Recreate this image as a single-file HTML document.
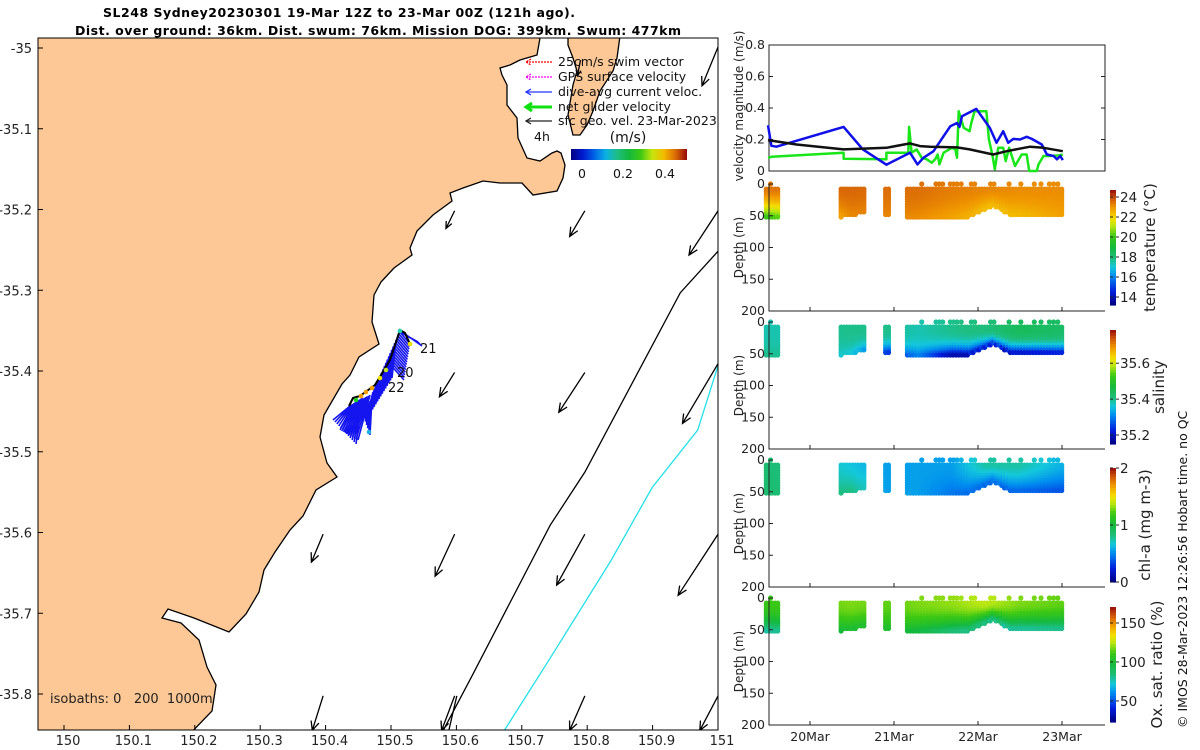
<!DOCTYPE html>
<html><head><meta charset="utf-8"><style>
body{margin:0;background:#fff;}
svg{display:block;font-family:"DejaVu Sans","Liberation Sans",sans-serif;}
</style></head><body>
<svg id="fig" width="1200" height="750" viewBox="0 0 1200 750" xmlns="http://www.w3.org/2000/svg">
<rect width="1200" height="750" fill="#fff"/>
<g font-weight="bold" font-size="12.5" fill="#000" text-anchor="middle">
<text x="339" y="17" textLength="472">SL248 Sydney20230301 19-Mar 12Z to 23-Mar 00Z (121h ago).</text>
<text x="378" y="35" textLength="606">Dist. over ground: 36km. Dist. swum: 76km. Mission DOG: 399km. Swum: 477km</text>
</g>
<!-- MAP -->
<g id="map">
<clipPath id="mapclip"><rect x="38" y="38" width="680" height="692"/></clipPath>
<g clip-path="url(#mapclip)">
<path fill="#fdc896" stroke="#000" stroke-width="1.3" d="M30,30 L540,30 L540,38 L537,55 L520,60 L510,65 L500,68 L502,75 L507,85 L507,105 L517,118 L518,138 L527,158 L540,161 L552,153 L557,151 L561,153 L565,165 L563,178 L557,191 L533,195 L522,183 L500,183 L483,181 L463,188 L450,193 L452,201 L433,215 L417,231 L410,248 L412,255 L394,268 L381,282 L374,295 L372,322 L379,344 L359,357 L350,375 L342,384 L324,415 L320,437 L327,463 L337,477 L316,490 L303,516 L290,530 L275,552 L264,570 L259,592 L246,614 L229,632 L194,618 L168,609 L162,618 L181,623 L199,640 L207,667 L216,685 L212,711 L186,738 L30,738 Z"/>
<g transform="translate(38,38) scale(0.434,0.443)">
<path fill="none" stroke="#000" stroke-width="1.3" vector-effect="non-scaling-stroke" d="M930,1570 L1000,1440 L1180,1100 L1260,980 L1480,575 L1570,478"/>
<path fill="none" stroke="#000" stroke-width="1.3" vector-effect="non-scaling-stroke" d="M945,1570 L965,1485"/>
<path fill="none" stroke="#22e0e8" stroke-width="1.3" vector-effect="non-scaling-stroke" d="M1070,1570 L1180,1400 L1320,1180 L1415,1015 L1520,885 L1570,730"/>
</g>
<polygon fill="#fdc896" stroke="#000" stroke-width="1.3" points="568,36 620,36 617,58 613,71 600,91 593,111 587,125 580,135 573,135 568,115 573,85 577,71 573,58 568,45"/>
<g id="arrows" stroke="#000" stroke-width="1.3" fill="none"></g>
<g id="track"></g>
</g>
<rect x="38" y="38" width="680" height="692" fill="none" stroke="#000" stroke-width="1"/>
<g id="mapticks" font-size="13" fill="#222"></g>
<text x="50" y="703" font-size="13" fill="#222">isobaths: 0&#160;&#160;&#160;200&#160;&#160;1000m</text>
<!-- legend -->
<g font-size="12.5" fill="#111">
<g stroke-width="1.3" fill="none">
<path d="M552,62 L526,62 M531,59 L526,62 L531,65" stroke="#f00" stroke-dasharray="2,1"/>
<path d="M552,77 L526,77 M531,74 L526,77 L531,80" stroke="#f0f" stroke-dasharray="2,1"/>
<path d="M552,92 L526,92 M531,89 L526,92 L531,95" stroke="#2030ff"/>
<path d="M552,107 L526,107 M532,103 L526,107 L532,111" stroke="#10e010" stroke-width="3"/>
<path d="M552,121 L526,121 M531,118 L526,121 L531,124" stroke="#222"/>
</g>
<text x="558" y="66">25cm/s swim vector</text>
<text x="558" y="81">GPS surface velocity</text>
<text x="558" y="96">dive-avg current veloc.</text>
<text x="558" y="111">net glider velocity</text>
<text x="558" y="125">sfc geo. vel. 23-Mar-2023</text>
<text x="534" y="141">4h</text>
<text x="628" y="142" font-size="14" text-anchor="middle">(m/s)</text>
<rect id="speedcb" x="571" y="149" width="116" height="11"/>
<text x="582" y="178" text-anchor="middle">0</text>
<text x="623" y="178" text-anchor="middle">0.2</text>
<text x="665" y="178" text-anchor="middle">0.4</text>
</g>
</g>
<!-- RIGHT PANELS -->
<g id="right" font-size="12.5" fill="#222"></g>
<text transform="translate(1187,728) rotate(-90)" font-size="12.5" fill="#111">© IMOS 28-Mar-2023 12:26:56 Hobart time. no QC</text>
</svg>
<script>
const NS="http://www.w3.org/2000/svg";
function mk(tag,attrs,parent){const e=document.createElementNS(NS,tag);for(const k in attrs)e.setAttribute(k,attrs[k]);if(parent)parent.appendChild(e);return e;}

// ===== velocity chart data =====
const blueT=[19.50,19.54,19.60,20.40,20.63,20.91,21.19,21.28,21.35,21.47,21.59,21.67,21.75,21.78,21.81,21.98,22.14,22.22,22.30,22.36,22.42,22.50,22.58,22.64,22.76,22.82,22.90,22.94,22.98,23.01];
const blueV=[0.29,0.16,0.154,0.28,0.137,0.04,0.116,0.042,0.084,0.126,0.221,0.284,0.305,0.28,0.348,0.394,0.274,0.179,0.253,0.179,0.204,0.20,0.217,0.204,0.168,0.105,0.095,0.074,0.095,0.069];
const greenT=[19.50,19.54,20.40,20.40,20.91,20.91,21.17,21.18,21.21,21.27,21.33,21.39,21.45,21.49,21.52,21.54,21.59,21.69,21.73,21.75,21.77,21.83,21.90,21.92,21.96,22.10,22.13,22.17,22.20,22.24,22.30,22.33,22.37,22.41,22.44,22.52,22.58,22.61,22.70,22.72,22.78,22.86,22.96,23.01];
const greenV=[0.084,0.09,0.116,0.078,0.074,0.116,0.116,0.28,0.116,0.137,0.084,0.074,0.053,0.074,0.105,0.042,0.116,0.147,0.137,0.084,0.379,0.274,0.253,0.305,0.379,0.379,0.20,0.105,0.011,0.147,0.147,0.063,0.147,0.084,0.032,0.105,0.105,0.0,0.0,0.042,0.095,0.095,0.099,0.105];
const blackT=[19.50,19.84,20.40,20.91,21.19,21.31,21.43,21.75,21.90,22.18,22.34,22.62,22.78,23.01];
const blackV=[0.196,0.168,0.137,0.147,0.175,0.158,0.154,0.150,0.137,0.105,0.126,0.154,0.147,0.126];
const velTicks=[0,0.2,0.4,0.6,0.8];
const dayTicks=[20,21,22,23];
const dayLabels=["20Mar","21Mar","22Mar","23Mar"];

// ===== section data =====
const segStart=[19.48,20.37,20.90,21.16];
const segEnd=[19.63,20.67,20.96,23.02];
const botT=[19.48,19.63,20.37,20.55,20.67,20.90,20.96,21.16,21.90,22.10,22.18,22.40,23.02];
const botD=[52,52,52,48,45,50,50,53,52,40,35,50,50];
const surfT=[19.53,21.33,21.50,21.54,21.58,21.67,21.71,21.75,21.80,21.92,21.96,22.15,22.19,22.37,22.51,22.67,22.75,22.85,22.90,22.95];
const knotT=[19.5,20.5,20.93,21.3,21.7,22.1,22.5,23.0];
const tempSurf=[23.4,23.6,23.5,23.5,23.3,23.2,23.1,23.1];
const tempBot=[20.0,23.2,23.2,23.1,22.8,22.3,22.4,22.8];
const salSurf=[35.38,35.40,35.40,35.38,35.40,35.41,35.44,35.43];
const salBot=[35.40,35.36,35.22,35.30,35.18,35.20,35.18,35.20];
const chlSurf=[0.85,0.65,0.55,0.55,0.55,0.75,0.75,0.6];
const chlBot=[0.85,0.8,0.55,0.55,0.45,0.4,0.4,0.35];
const oxySurf=[110,118,115,118,120,125,118,115];
const oxyBot=[78,100,100,95,85,78,76,78];
const depthTicks=[0,50,100,150,200];

// ===== colormap =====
const cmapStops=[[0,[0,0,130]],[0.12,[0,30,220]],[0.25,[0,140,240]],[0.33,[20,200,220]],[0.4,[30,190,130]],[0.5,[20,185,60]],[0.6,[60,200,20]],[0.68,[180,230,20]],[0.75,[245,225,0]],[0.85,[240,150,0]],[0.92,[210,90,10]],[1,[150,10,10]]];
function cmap(f){f=Math.max(0,Math.min(1,f));for(let i=1;i<cmapStops.length;i++){if(f<=cmapStops[i][0]){const a=cmapStops[i-1],b=cmapStops[i];const u=(f-a[0])/(b[0]-a[0]);const c=a[1].map((v,j)=>Math.round(v+(b[1][j]-v)*u));return `rgb(${c[0]},${c[1]},${c[2]})`;}}return "rgb(150,10,10)";}
function interp(xs,ys,x){if(x<=xs[0])return ys[0];for(let i=1;i<xs.length;i++){if(x<=xs[i]){const u=(x-xs[i-1])/(xs[i]-xs[i-1]);return ys[i-1]+(ys[i]-ys[i-1])*u;}}return ys[ys.length-1];}

const right=document.getElementById('right');
const X0=810, PXD=84, PL=769, PR=1105;
const xT=t=>X0+(t-20)*PXD;

// --- velocity panel ---
const vTop=45,vBot=171;
const yV=v=>vBot-v/0.8*(vBot-vTop);
const vel=mk('g',{},right);


mk('rect',{x:PL,y:vTop,width:PR-PL,height:vBot-vTop,fill:'none',stroke:'#222','stroke-width':1},vel);
velTicks.forEach(v=>{const y=yV(v);
 mk('line',{x1:PL,x2:PL+4,y1:y,y2:y,stroke:'#222'},vel);mk('line',{x1:PR,x2:PR-4,y1:y,y2:y,stroke:'#222'},vel);
 const t=mk('text',{x:PL-4,y:y+4,'text-anchor':'end'},vel);t.textContent=String(v);
 
 });
const vl=mk('text',{transform:`translate(743,${(vTop+vBot)/2-2}) rotate(-90)`,'text-anchor':'middle','font-size':12},vel);vl.textContent='velocity magnitude (m/s)';


function series(T,V,color,name,w){const d=T.map((t,i)=>(i?'L':'M')+xT(t).toFixed(1)+','+yV(V[i]).toFixed(1)).join(' ');
 const p=mk('path',{d:d,fill:'none',stroke:color,'stroke-width':w,'stroke-linejoin':'round'},vel);
 
 }
series(greenT,greenV,'#19e619','net-glider-speed-line',2.5);
series(blueT,blueV,'#1010e8','dive-avg-current-line',2.5);
series(blackT,blackV,'#111','geo-velocity-line',2.5);

// --- section panels ---
const panels=[
 {name:'temperature',top:184,surf:tempSurf,bot:tempBot,vmin:13.2,vmax:24.7,cbTop:190,cbBot:305,ticks:[14,16,18,20,22,24],title:'temperature (°C)',tx:1155,pw:1.6},
 {name:'salinity',top:322,surf:salSurf,bot:salBot,vmin:35.15,vmax:35.785,cbTop:330,cbBot:444,ticks:[35.2,35.4,35.6],title:'salinity',tx:1164,pw:3},
 {name:'chlorophyll',top:460,surf:chlSurf,bot:chlBot,vmin:0,vmax:2,cbTop:468,cbBot:582,ticks:[0,1,2],title:'chl-a (mg m-3)',tx:1150,pw:1.5},
 {name:'oxygen',top:598,surf:oxySurf,bot:oxyBot,vmin:23,vmax:170.5,cbTop:607,cbBot:722,ticks:[50,100,150],title:'Ox. sat. ratio (%)',tx:1162,pw:2}
];
panels.forEach((P,pi)=>{
 const g=mk('g',{},right);
 
 
 const H=127, yD=d=>P.top+d/200*H, fr=v=>(v-P.vmin)/(P.vmax-P.vmin);
 const dots=mk('g',{},g);
 for(let s=0;s<segStart.length;s++){
  for(let t=segStart[s];t<=segEnd[s]+1e-6;t+=0.034){
   const bd=interp(botT,botD,t);
   const sv=interp(knotT,P.surf,t), bv=interp(knotT,P.bot,t);
   for(let d=8;d<=bd;d+=4){
    const u=(d-8)/Math.max(1,bd-8);
    const v=sv+(bv-sv)*Math.pow(u,P.pw);
    const c=mk('circle',{cx:xT(t).toFixed(1),cy:yD(d).toFixed(1),r:2.6,fill:cmap(fr(v))},dots);
    
    
   }
  }
 }
 surfT.forEach(t=>{const c=mk('circle',{cx:xT(t),cy:yD(0),r:2.6,fill:cmap(fr(interp(knotT,P.surf,t)))},dots);
  
  });
 mk('path',{d:`M${PL},${P.top} L${PL},${P.top+H} L${PR},${P.top+H}`,fill:'none',stroke:'#222'},g);
 depthTicks.forEach(dv=>{const y=yD(dv);mk('line',{x1:PL,x2:PL+4,y1:y,y2:y,stroke:'#222'},g);
  const t=mk('text',{x:PL-4,y:y+4,'text-anchor':'end'},g);t.textContent=String(dv);
  
  });
 dayTicks.forEach(d=>{const x=xT(d);mk('line',{x1:x,x2:x,y1:P.top+H,y2:P.top+H-4,stroke:'#222'},g);});
 const dl=mk('text',{transform:`translate(743,${P.top+H/2}) rotate(-90)`,'text-anchor':'middle','font-size':12},g);dl.textContent='Depth (m)';
 
 
 // colorbar
 const cb=mk('g',{},g);
 
 
 const n=40,h=(P.cbBot-P.cbTop)/n;
 for(let i=0;i<n;i++){mk('rect',{x:1110,y:P.cbTop+i*h,width:6,height:h+0.6,fill:cmap(1-(i+0.5)/n)},cb);}
 P.ticks.forEach(v=>{const y=P.cbBot-fr(v)*(P.cbBot-P.cbTop);mk('line',{x1:1116,x2:1119,y1:y,y2:y,stroke:'#222'},cb);mk('line',{x1:1110,x2:1113,y1:y,y2:y,stroke:'#222'},cb);
  const t=mk('text',{x:1120,y:y+5,'font-size':13.5},cb);t.textContent=String(v);
  
  });
 const ct=mk('text',{transform:`translate(${P.tx},${(P.cbTop+P.cbBot)/2}) rotate(-90)`,'text-anchor':'middle','font-size':15},cb);ct.textContent=P.title;
 
 
});
dayTicks.forEach((d,i)=>{const t=mk('text',{x:xT(d),y:741,'text-anchor':'middle'},right);t.textContent=dayLabels[i];
 
 });

// ===== map axes =====
const lonTicks=[150,150.1,150.2,150.3,150.4,150.5,150.6,150.7,150.8,150.9,151];
const latTicks=[-35,-35.1,-35.2,-35.3,-35.4,-35.5,-35.6,-35.7,-35.8];
const xLon=l=>64+654*(l-150);
const yLat=l=>48+807.5*(-35-l);
const mt=document.getElementById('mapticks');
lonTicks.forEach(l=>{const x=xLon(l);mk('line',{x1:x,x2:x,y1:730,y2:725,stroke:'#000'},mt);
 const t=mk('text',{x:x+4,y:745,'text-anchor':'middle'},mt);t.textContent=String(l);
 
 });
latTicks.forEach(l=>{const y=yLat(l);mk('line',{x1:38,x2:43,y1:y,y2:y,stroke:'#000'},mt);
 const t=mk('text',{x:32,y:y+5,'text-anchor':'end'},mt);t.textContent=String(l);
 
 });

// geo velocity arrows
const arrow=document.getElementById('arrows');
const arrSpecs=[[960,390,940,430],[1260,390,1225,448],[1567,390,1500,490],[1567,20,1530,108],[960,755,925,810],[1260,755,1200,845],[1567,735,1485,870],[657,1120,630,1183],[960,1120,915,1215],[1260,1120,1195,1235],[1567,1120,1475,1258],[657,1485,632,1563],[960,1485,930,1563],[1260,1485,1225,1563],[1567,1485,1525,1563],[1250,50,1243,85]];
arrSpecs.forEach(a=>{const x1=38+a[0]*0.434,y1=38+a[1]*0.443,x2=38+a[2]*0.434,y2=38+a[3]*0.443;
 const dx=x2-x1,dy=y2-y1,L=Math.hypot(dx,dy),ux=dx/L,uy=dy/L,hl=Math.min(9,L*0.35);
 const p=mk('path',{d:`M${x1},${y1} L${x2},${y2} M${x2-hl*ux-hl*0.45*uy},${y2-hl*uy+hl*0.45*ux} L${x2},${y2} L${x2-hl*ux+hl*0.45*uy},${y2-hl*uy-hl*0.45*ux}`},arrow);
 
 });

// glider track
const tr=document.getElementById('track');
function zig(a1,a2,b1,b2,n){let d='';for(let i=0;i<=n;i++){const u=i/n;const ax=a1[0]+(a2[0]-a1[0])*u,ay=a1[1]+(a2[1]-a1[1])*u,bx=b1[0]+(b2[0]-b1[0])*u,by=b1[1]+(b2[1]-b1[1])*u;d+=`M${ax},${ay} L${bx},${by} `;}
 const p=mk('path',{d:d,stroke:'#1515f0','stroke-width':1.6,fill:'none'},tr);
 
 }
zig([400,332],[388,362],[410,344],[404,380],14);
zig([396,340],[373,392],[392,378],[366,420],16);
zig([350,406],[362,398],[333,420],[356,444],12);
zig([356,402],[370,395],[340,430],[358,440],10);
zig([365,408],[372,398],[363,415],[370,435],6);
zig([400,332],[405,334],[418,342],[422,346],4);
const tp=mk('path',{d:'M349,406 L353,398 L360,396 L375,385 L390,360 L400,330 L405,333 L410,344',stroke:'#000','stroke-width':2,fill:'none'},tr);


[[372,388,'#f5a000'],[366,392,'#f5a000'],[361,396,'#f5a000'],[380,378,'#e8e000'],[386,370,'#c0e020'],[356,400,'#20d020'],[410,344,'#e8e000'],[369,432,'#20b0e0'],[400,331,'#20d0b0']].forEach(p=>{
 const c=mk('circle',{cx:p[0],cy:p[1],r:2.3,fill:p[2]},tr);
 
 });
[['21',420,353],['20',397,377],['22',388,392]].forEach(l=>{const t=mk('text',{x:l[1],y:l[2],'font-size':13,fill:'#111'},tr);t.textContent=l[0];
 
 });

// speed colorbar
const scb=document.getElementById('speedcb');
const gdef=mk('linearGradient',{id:'spg'},document.getElementById('fig'));
for(let i=0;i<=10;i++)mk('stop',{offset:(i/10),'stop-color':cmap(i/10)},gdef);
scb.setAttribute('fill','url(#spg)');
</script>
</body></html>
